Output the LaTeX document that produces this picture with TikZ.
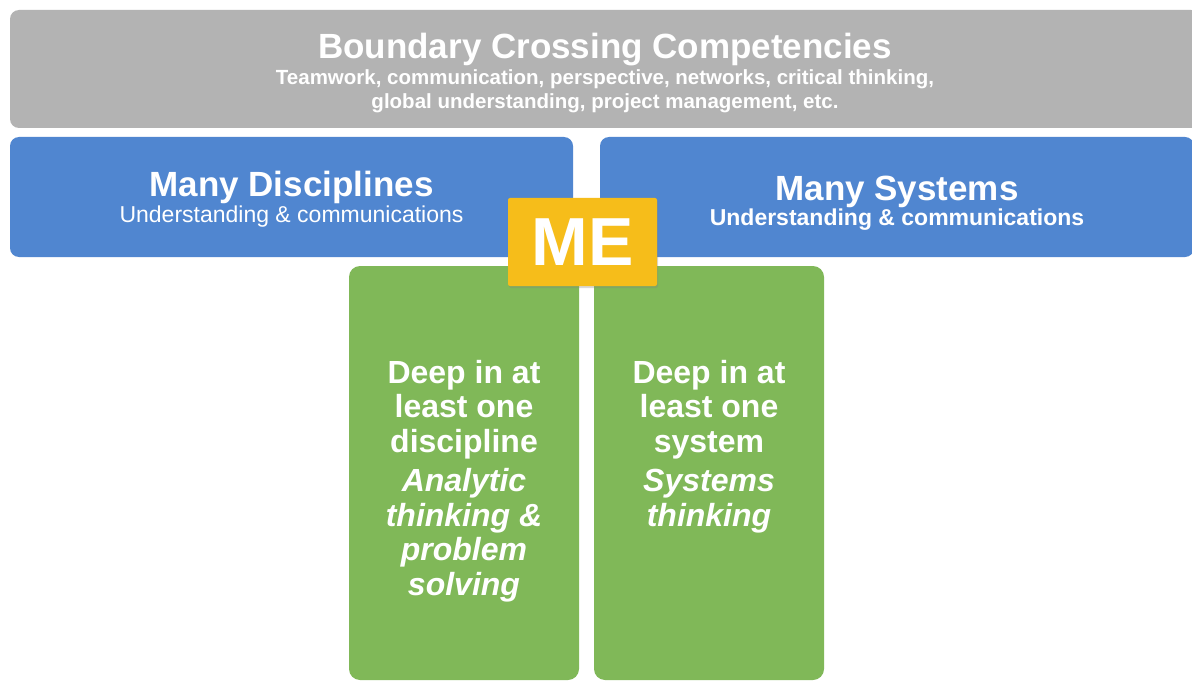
\documentclass[tikz,border=0pt]{standalone}
\usepackage{fontspec}
\setmainfont{Liberation Sans}
\usepackage{xcolor}
\usepackage{tikz}
\usetikzlibrary{positioning}
\usetikzlibrary{shadows}
\definecolor{bandgray}{RGB}{179,179,179}
\definecolor{bandblue}{RGB}{80,134,208}
\definecolor{pillargreen}{RGB}{128,184,88}
\definecolor{megold}{RGB}{246,189,26}
\tikzstyle{band} = [rectangle, rounded corners=9pt, inner sep=0pt]
\tikzstyle{bandtext} = [text=white, align=center, inner sep=0pt]
\tikzstyle{pillar} = [rectangle, rounded corners=11pt, fill=pillargreen, minimum width=230pt, minimum height=414pt]
\tikzstyle{deep} = [text=white, align=center, inner sep=0pt, font=\bfseries\fontsize{32}{34.5}\selectfont]

\begin{document}
\begin{tikzpicture}[x=1pt, y=-1pt]
    \clip (0,0) rectangle (1192,682);
    \fill[white] (0,0) rectangle (1192,682);
    % top band
    \node(crossing)[band, fill=bandgray, minimum width=1190pt, minimum height=118pt] at (605,69) {};
    \node(crossingtext)[bandtext, font=\bfseries\fontsize{20.5}{24}\selectfont] at ([yshift=-4pt]crossing.center) {{\fontsize{35}{38}\selectfont Boundary Crossing Competencies}\\[1.5pt]Teamwork, communication, perspective, networks, critical thinking,\\global understanding, project management, etc.};
    % blue bands
    \node(disciplines)[band, fill=bandblue, minimum width=563pt, minimum height=120pt] at (291.5,197) {};
    \node(disctext)[bandtext, font=\fontsize{23}{25.5}\selectfont] at ([yshift=-2pt]disciplines.center) {{\bfseries\fontsize{35}{38}\selectfont Many Disciplines}\\Understanding \& communications};
    \node(systems)[band, fill=bandblue, minimum width=594pt, minimum height=120pt] at (897,197) {};
    \node(systext)[bandtext, font=\bfseries\fontsize{23}{25}\selectfont] at ([yshift=-6pt]systems.center) {{\fontsize{35}{38}\selectfont Many Systems}\\Understanding \& communications};
    % green pillars
    \node(discpillar)[pillar] at (464,473) {};
    \node(syspillar)[pillar] at (709,473) {};
    \node(deepdisc)[deep, below=94pt of discpillar.north] {Deep in at\\least one\\discipline\\[5pt]\itshape Analytic\\\itshape thinking \&\\\itshape problem\\\itshape solving};
    \node(deepsys)[deep, below=94pt of syspillar.north] {Deep in at\\least one\\system\\[5pt]\itshape Systems\\\itshape thinking};
    % ME
    \node(me)[rectangle, rounded corners=2pt, fill=megold, text=white, minimum width=149pt, minimum height=88pt, inner sep=0pt, font=\bfseries\fontsize{68}{68}\selectfont, drop shadow={opacity=0.3, shadow xshift=1pt, shadow yshift=-2pt}] at (582.5,242) {ME};
\end{tikzpicture}
\end{document}
